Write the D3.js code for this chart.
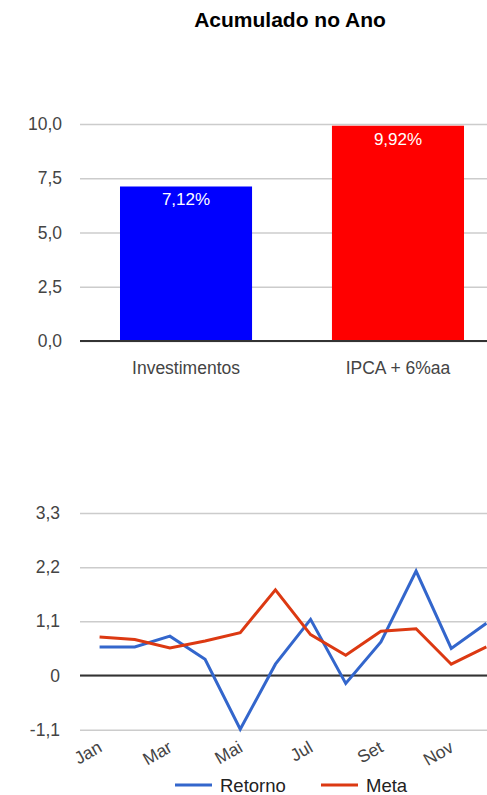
<!DOCTYPE html>
<html>
<head>
<meta charset="utf-8">
<script src="https://cdn.jsdelivr.net/npm/d3@7"></script>
<style>
  body { margin: 0; background: #fff; }
  svg { display: block; font-family: Arial, "Liberation Sans", sans-serif; }
  .tick text { fill: #444; }
</style>
</head>
<body>
<script>
var w = 487;
var h = 795;

// top chart data
var barCategories = ['Investimentos', 'IPCA + 6%aa'];
var barValues = [7.12, 9.92];
var barColors = ['#0000ff', '#ff0000'];
var barTicks = [0, 2.5, 5, 7.5, 10];

// bottom chart data
var months = ['Jan', 'Fev', 'Mar', 'Abr', 'Mai', 'Jun', 'Jul', 'Ago', 'Set', 'Out', 'Nov', 'Dez'];
var retorno = [0.58, 0.58, 0.80, 0.33, -1.09, 0.23, 1.14, -0.16, 0.68, 2.12, 0.55, 1.06];
var meta = [0.78, 0.73, 0.56, 0.70, 0.87, 1.74, 0.83, 0.41, 0.90, 0.95, 0.23, 0.58];
var lineTicks = [-1.1, 0, 1.1, 2.2, 3.3];
var monthLabels = ['Jan', 'Mar', 'Mai', 'Jul', 'Set', 'Nov'];

// comma decimals, plain hyphen for negatives
var fmtNum = function(d, p) {
  return d3.format('.' + p + 'f')(d).replace('.', ',').replace('\u2212', '-');
};
var fmtLine = function(d) { return d === 0 ? '0' : fmtNum(d, 1); };

var svg = d3.select('body').append('svg')
  .attr('width', w)
  .attr('height', h);

svg.append('rect').attr('width', w).attr('height', h).attr('fill', '#fff');

svg.append('text')
  .attr('x', 290)
  .attr('y', 27)
  .attr('text-anchor', 'middle')
  .style('font-size', '21px')
  .style('font-weight', 'bold')
  .attr('fill', '#000')
  .text('Acumulado no Ano');

// ---- bar chart ----
var bx = d3.scaleBand()
  .domain(barCategories)
  .range([80, 504])
  .paddingInner(0.377)
  .paddingOuter(0.1887);

var by = d3.scaleLinear().domain([0, 10]).range([341, 124]);

var yAxisBar = svg.append('g')
  .attr('transform', 'translate(80,0)')
  .call(d3.axisLeft(by).tickValues(barTicks).tickSize(-(w - 80)).tickPadding(18)
    .tickFormat(function(d) { return fmtNum(d, 1); }));
yAxisBar.select('.domain').remove();
yAxisBar.selectAll('.tick line').attr('stroke', '#ccc').attr('stroke-width', 1.5);
yAxisBar.selectAll('.tick text').style('font-size', '17.5px').style('font-family', 'Arial, "Liberation Sans", sans-serif');

svg.selectAll('rect.bar')
  .data(barValues)
  .enter()
  .append('rect')
  .attr('class', 'bar')
  .attr('x', function(d, i) { return bx(barCategories[i]); })
  .attr('width', bx.bandwidth())
  .attr('y', function(d) { return by(d); })
  .attr('height', function(d) { return by(0) - by(d); })
  .attr('fill', function(d, i) { return barColors[i]; });

svg.selectAll('text.barlabel')
  .data(barValues)
  .enter()
  .append('text')
  .attr('class', 'barlabel')
  .attr('x', function(d, i) { return bx(barCategories[i]) + bx.bandwidth() / 2; })
  .attr('y', function(d) { return by(d) + 19; })
  .attr('text-anchor', 'middle')
  .attr('fill', '#fff')
  .style('font-size', '17px')
  .text(function(d) { return fmtNum(d, 2) + '%'; });

var xAxisBar = svg.append('g')
  .attr('transform', 'translate(0,' + by(0) + ')')
  .call(d3.axisBottom(bx).tickSize(0).tickPadding(21));
xAxisBar.select('.domain').remove();
xAxisBar.selectAll('.tick text').style('font-size', '17.5px').style('font-family', 'Arial, "Liberation Sans", sans-serif');

svg.append('line')
  .attr('x1', 80).attr('x2', w)
  .attr('y1', by(0)).attr('y2', by(0))
  .attr('stroke', '#333').attr('stroke-width', 2);

// ---- line chart ----
var lx = d3.scalePoint()
  .domain(months)
  .range([82, 504])
  .padding(0.5);

var ly = d3.scaleLinear().domain([-1.1, 3.3]).range([729.7, 513]);

var yAxisLine = svg.append('g')
  .attr('transform', 'translate(80,0)')
  .call(d3.axisLeft(ly).tickValues(lineTicks).tickSize(-(w - 80)).tickPadding(20).tickFormat(fmtLine));
yAxisLine.select('.domain').remove();
yAxisLine.selectAll('.tick line').attr('stroke', '#ccc').attr('stroke-width', 1.5);
yAxisLine.selectAll('.tick text').style('font-size', '17.5px').style('font-family', 'Arial, "Liberation Sans", sans-serif');

svg.append('line')
  .attr('x1', 80).attr('x2', w)
  .attr('y1', ly(0)).attr('y2', ly(0))
  .attr('stroke', '#333').attr('stroke-width', 2);

var xAxisLine = svg.append('g')
  .attr('transform', 'translate(0,' + ly(-1.1) + ')')
  .call(d3.axisBottom(lx).tickValues(monthLabels).tickSize(0).tickPadding(0));
xAxisLine.select('.domain').remove();
xAxisLine.selectAll('.tick text')
  .style('font-size', '17.5px')
  .style('font-family', 'Arial, "Liberation Sans", sans-serif')
  .attr('text-anchor', 'end')
  .attr('dy', 0)
  .attr('y', 0)
  .attr('transform', 'translate(3,21) rotate(-30)');

var line = d3.line()
  .x(function(d, i) { return lx(months[i]); })
  .y(function(d) { return ly(d); });

svg.append('path')
  .datum(retorno)
  .attr('d', line)
  .attr('fill', 'none')
  .attr('stroke', '#3366cc')
  .attr('stroke-width', 3);

svg.append('path')
  .datum(meta)
  .attr('d', line)
  .attr('fill', 'none')
  .attr('stroke', '#dc3912')
  .attr('stroke-width', 3);

// legend
var legendItems = [
  { name: 'Retorno', color: '#3366cc', x: 175 },
  { name: 'Meta', color: '#dc3912', x: 321 }
];
var legend = svg.selectAll('g.legend')
  .data(legendItems)
  .enter()
  .append('g')
  .attr('class', 'legend')
  .attr('transform', function(d) { return 'translate(' + d.x + ',785)'; });
legend.append('line')
  .attr('x1', 0).attr('x2', 37)
  .attr('y1', 0).attr('y2', 0)
  .attr('stroke', function(d) { return d.color; })
  .attr('stroke-width', 3);
legend.append('text')
  .attr('x', 45)
  .attr('y', 6.5)
  .attr('fill', '#222')
  .style('font-size', '18.5px')
  .text(function(d) { return d.name; });
</script>
</body>
</html>
